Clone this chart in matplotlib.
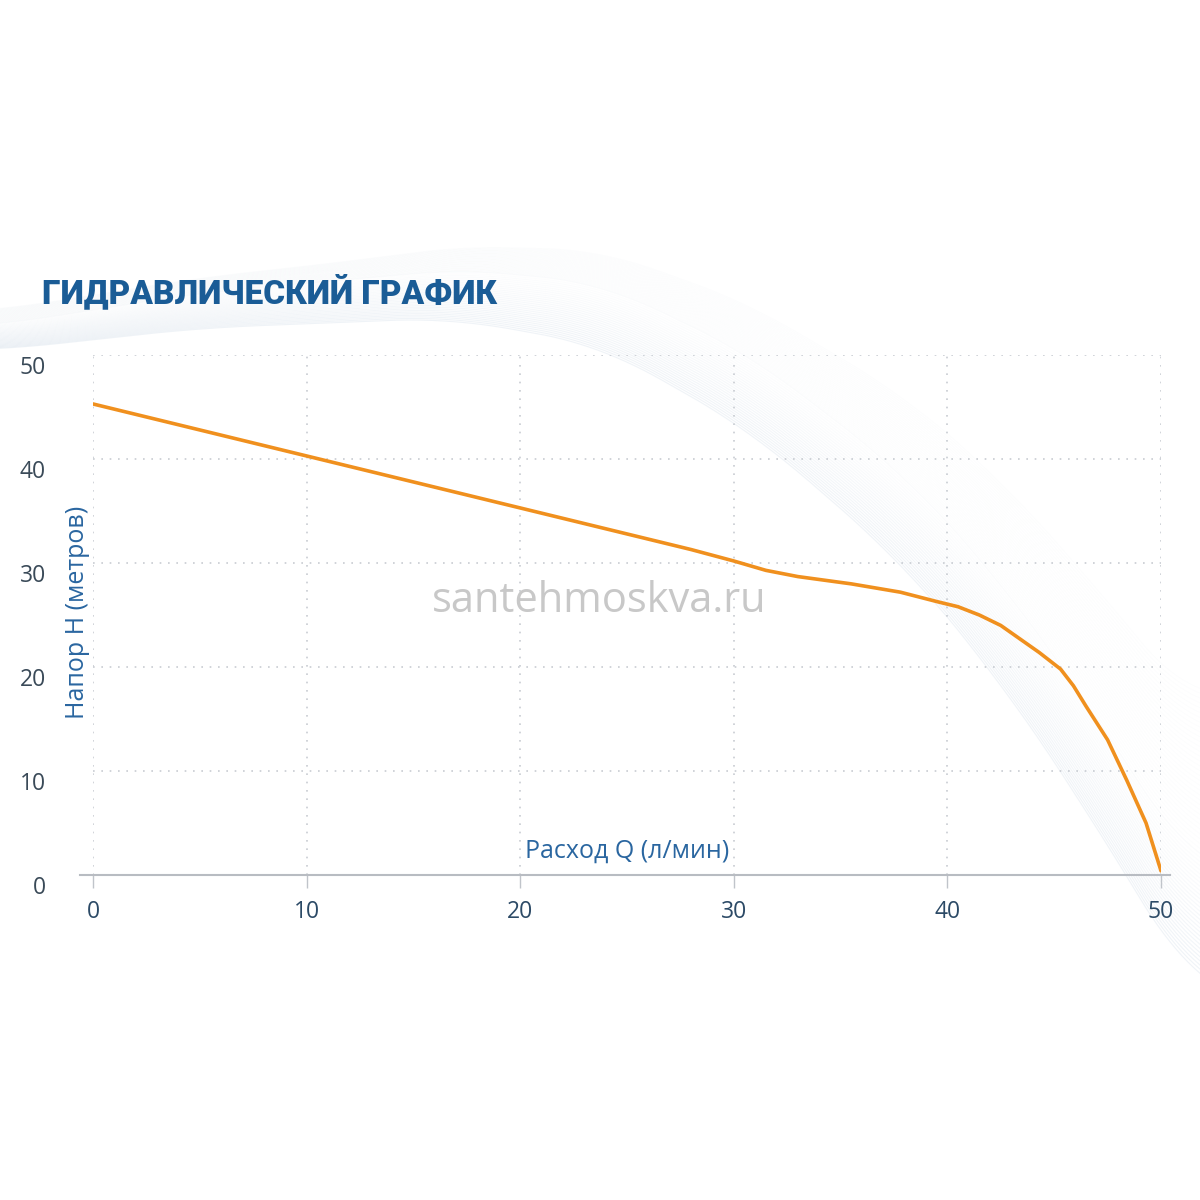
import numpy as np
import matplotlib.pyplot as plt
from matplotlib import transforms

# data
flow_q = [0, 10, 20, 28, 30, 31.5, 33, 35.5, 37.8, 39.5, 40.5, 41.5, 42.5, 43.4, 44.3, 45.3, 45.9,
          46.5, 47.5, 48.4, 49.3, 50]
head_h = [45.3, 40.3, 35.3, 31.3, 30.2, 29.3, 28.7, 28.0, 27.2, 26.3, 25.8, 25.0, 24.0, 22.7, 21.4,
          19.8, 18.2, 16.2, 13.0, 9.1, 5.0, 0.4]
x_ticks = [0, 10, 20, 30, 40, 50]
y_ticks = [0, 10, 20, 30, 40, 50]

title = "ГИДРАВЛИЧЕСКИЙ ГРАФИК"
x_label = "Расход Q (л/мин)"
y_label = "Напор Н (метров)"
watermark = "santehmoskva.ru"

plt.rcParams['font.family'] = ['Open Sans', 'DejaVu Sans']

fig = plt.figure(figsize=(12, 12), dpi=100)
fig.patch.set_facecolor('white')

# decorative background swoosh, drawn in pixel coordinates
bg = fig.add_axes([0, 0, 1, 1], zorder=0)
bg.set_xlim(0, 1200)
bg.set_ylim(1200, 0)
bg.axis('off')
edge_x = [0, 200, 450, 600, 750, 900, 1000, 1080, 1160, 1200]
edge_y = [350, 328, 318, 345, 430, 560, 680, 800, 930, 1000]
xs = np.linspace(0, 1200, 400)
lower = np.interp(xs, edge_x, edge_y)
lower = np.convolve(np.pad(lower, 20, mode='edge'), np.ones(41) / 41, mode='valid')
width = np.interp(xs, [0, 400, 800, 1200], [25, 45, 80, 120])
for k in range(30):
    f = k / 29
    bg.plot(xs, lower - f * width, color='#9db6cf', lw=0.8, alpha=0.14 * (1 - f) + 0.02)
for k in range(35):
    f = k / 34
    bg.plot(xs, lower - width - f * (15 + 150 * (xs / 1200) ** 3),
            color='#b8cadb', lw=0.5, alpha=0.045)

ax = fig.add_axes([0.0775, 0.2708, 0.89, 0.4333], zorder=1)
ax.patch.set_alpha(0)
ax.plot(flow_q, head_h, color='#f0901e', lw=2.6, solid_capstyle='round',
        solid_joinstyle='round', zorder=3)

ax.set_xlim(0, 50)
ax.set_ylim(0, 50)
ax.set_xticks(x_ticks)
ax.set_yticks(y_ticks)
ax.grid(True, color='#c8ccd2', linestyle=(0, (1, 4)), lw=1.2)
for s in ['top', 'right', 'left']:
    ax.spines[s].set_visible(False)
ax.spines['bottom'].set_color('#b8bcc2')
ax.spines['bottom'].set_linewidth(1.5)
ax.spines['bottom'].set_bounds(-0.6, 50.4)
ax.tick_params(axis='x', length=9, width=1, color='#c0c4ca', pad=9,
               labelsize=16.5, labelcolor='#2c4a66')
ax.tick_params(axis='y', length=0, pad=34, labelsize=16.5, labelcolor='#3a4a58')
offset = transforms.ScaledTranslation(0, -0.1, fig.dpi_scale_trans)
for lab in ax.get_yticklabels():
    lab.set_transform(lab.get_transform() + offset)

ax.text(-0.72, 25.3, y_label, rotation=90, ha='center', va='center',
        fontsize=18, color='#2a66a0')
ax.text(25.0, 2.3, x_label, ha='center', va='center', fontsize=18, color='#2a66a0')
ax.text(23.7, 26.4, watermark, ha='center', va='center', fontsize=30,
        color='#c8c8c8', zorder=2)

fig.text(0.035, 0.756, title, ha='left', va='center', fontsize=24,
         fontweight='black', color='#1a5c96', family=['Roboto', 'DejaVu Sans'])

fig.savefig('out.png', dpi=100)
